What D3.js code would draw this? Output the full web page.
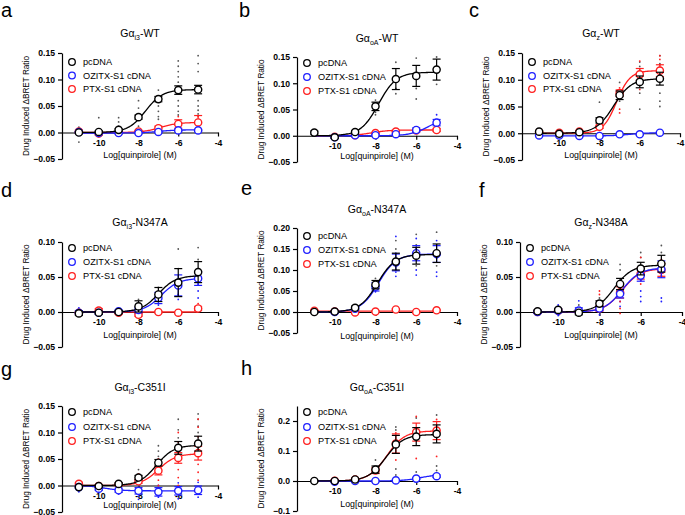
<!DOCTYPE html>
<html><head><meta charset="utf-8">
<script src="https://cdn.jsdelivr.net/npm/d3@7"></script>
<style>
html,body{margin:0;padding:0;background:#fff;}
svg{display:block;font-family:Arial,"Liberation Sans",sans-serif;}
</style></head>
<body><svg id="c" width="685" height="515"></svg>
<script>
// ---------- data ----------
const doses = [-11, -10, -9, -8, -7, -6, -5];
const seriesNames = ["pcDNA", "OZITX-S1 cDNA", "PTX-S1 cDNA"];
const panelLetters = ["a","b","c","d","e","f","g","h"];
const titleSubs = ["i3","oA","z","i3","oA","z","i3","oA"];
const titleSuffix = ["-WT","-WT","-WT","-N347A","-N347A","-N348A","-C351I","-C351I"];
const yDomains = [[-0.05,0.15],[-0.05,0.15],[-0.05,0.15],[-0.05,0.10],[-0.05,0.20],[-0.05,0.10],[-0.05,0.15],[-0.1,0.25]];
const yTicks = [[-0.05,0,0.05,0.1,0.15],[-0.05,0,0.05,0.1,0.15],[-0.05,0,0.05,0.1,0.15],[-0.05,0,0.05,0.1],[-0.05,0,0.05,0.1,0.15,0.2],[-0.05,0,0.05,0.1],[-0.05,0,0.05,0.1,0.15],[-0.1,0,0.1,0.2]];
const xTicks = [-10, -8, -6, -4];

// means [pcDNA, OZITX, PTX] at doses (null = not shown)
const meansA = [[0.000,0.001,0.005,0.029,0.063,0.080,0.081],[0.001,-0.001,-0.001,-0.001,0.001,0.004,0.004],[0.002,-0.002,0.000,0.002,0.008,0.016,0.019]];
const semA   = [[0.002,0.002,0.002,0.004,0.005,0.008,0.008],[0.001,0.001,0.001,0.001,0.001,0.001,0.001],[0.003,0.003,0.001,0.002,0.004,0.008,0.013]];
const fitA   = [[0,0.081,-7.65,1],[-0.001,0.005,-7,1],[0,0.019,-6.9,1]];
const meansB = [[0.006,-0.003,0.007,0.056,0.108,0.114,0.126],[null,-0.003,0.001,0.001,0.003,0.011,0.025],[null,-0.002,0.001,0.005,0.008,0.010,0.011]];
const semB   = [[0.003,0.002,0.003,0.008,0.020,0.020,0.020],[0,0.001,0.001,0.001,0.001,0.004,0.006],[0,0.001,0.001,0.001,0.001,0.002,0.003]];
const fitB   = [[0,0.121,-7.85,1],[0,0.035,-5.4,1],[0,0.011,-8.2,1]];
const meansC = [[0.003,-0.001,0.002,0.024,0.071,0.096,0.102],[-0.004,-0.004,-0.005,-0.005,-0.002,-0.002,0.001],[0.002,0.001,0.003,0.012,0.075,0.110,0.117]];
const semC   = [[0.002,0.001,0.002,0.005,0.008,0.011,0.012],[0.001,0.001,0.001,0.001,0.001,0.001,0.001],[0.001,0.001,0.001,0.003,0.006,0.011,0.011]];
const fitC   = [[0,0.102,-7.3,1],[-0.005,0.001,-6.5,1],[0,0.117,-7.15,1.3]];
const meansD = [[-0.002,-0.001,0.000,0.008,0.025,0.042,0.057],[-0.001,-0.001,0.001,0.003,0.020,0.038,0.048],[-0.001,0.002,-0.001,-0.004,0.000,-0.001,0.005]];
const semD   = [[0.003,0.002,0.002,0.008,0.010,0.020,0.015],[0.003,0.002,0.002,0.004,0.008,0.015,0.010],[0.002,0.003,0.002,0.002,0.001,0.001,0.003]];
const fitD   = [[0,0.052,-7.0,1],[0,0.048,-6.85,1],[0,0.0,-7,1]];
const meansE = [[0.000,0.001,0.010,0.065,0.120,0.134,0.140],[null,0.000,0.008,0.060,0.118,0.140,0.138],[0.003,0.001,-0.001,0.001,0.006,0.000,0.004]];
const semE   = [[0.002,0.002,0.004,0.010,0.020,0.020,0.022],[0,0.002,0.004,0.010,0.020,0.018,0.020],[0.001,0.001,0.001,0.001,0.002,0.001,0.001]];
const fitE   = [[0,0.137,-7.9,1],[0,0.138,-7.85,1],[0.002,0.002,-7,1]];
const meansF = [[0.001,0.003,-0.001,0.012,0.040,0.062,0.069],[0.000,0.002,0.002,0.005,0.026,0.052,0.061],[0.000,0.002,0.001,0.005,0.028,0.055,0.060]];
const semF   = [[0.002,0.002,0.003,0.004,0.008,0.009,0.012],[0.002,0.003,0.004,0.003,0.006,0.008,0.012],[0.002,0.002,0.002,0.004,0.008,0.008,0.009]];
const fitF   = [[0,0.067,-7.3,1],[0,0.063,-6.9,1],[0,0.062,-6.9,1]];
const meansG = [[-0.003,-0.001,0.003,0.015,0.043,0.071,0.079],[-0.003,-0.006,-0.009,-0.010,-0.012,-0.010,-0.009],[0.003,-0.001,0.002,0.008,0.028,0.052,0.061]];
const semG   = [[0.002,0.002,0.002,0.004,0.006,0.012,0.014],[0.002,0.003,0.004,0.006,0.008,0.008,0.008],[0.003,0.002,0.002,0.004,0.008,0.010,0.013]];
const fitG   = [[0,0.076,-7.1,1],[0,-0.010,-9.7,1],[0,0.060,-7.0,1]];
const meansH = [[0.000,0.000,0.005,0.038,0.122,0.148,0.157],[null,-0.002,0.000,0.000,0.002,0.008,0.016],[null,0.001,0.005,0.035,0.125,0.163,0.168]];
const semH   = [[0.002,0.002,0.004,0.012,0.030,0.030,0.030],[0,0.002,0.002,0.002,0.002,0.003,0.004],[0,0.002,0.004,0.010,0.032,0.030,0.030]];
const fitH   = [[0,0.155,-7.5,1],[0,0.022,-5.8,1],[0,0.167,-7.45,1]];

// individual replicates: [series, dose, value]
const repsA = [[0,-11,0.010],[0,-11,-0.018],[0,-10,0.028],[0,-10,0.006],[0,-9,0.028],[0,-9,0.020],[0,-9,0.012],[0,-8,0.060],[0,-8,0.046],[0,-8,0.033],[0,-8,0.012],[0,-7,0.080],[0,-7,0.050],[0,-7,0.040],[0,-7,0.030],[0,-7,0.025],[0,-6,0.135],[0,-6,0.125],[0,-6,0.115],[0,-6,0.105],[0,-6,0.095],[0,-6,0.060],[0,-6,0.050],[0,-6,0.040],[0,-6,0.033],[0,-5,0.145],[0,-5,0.130],[0,-5,0.115],[0,-5,0.060],[0,-5,0.050],[0,-5,0.042],[0,-5,0.035],[2,-11,0.006],[2,-10,-0.008],[2,-6,0.030],[2,-5,0.030]];
const repsB = [[0,-11,0.009],[0,-9,0.012],[0,-8,0.068],[0,-8,0.045],[0,-8,0.040],[0,-7,0.140],[0,-7,0.090],[0,-7,0.080],[0,-6,0.148],[0,-6,0.090],[0,-6,0.070],[0,-5,0.150],[0,-5,0.098],[1,-5,0.040],[1,-5,0.030],[1,-6,0.017],[2,-5,0.016]];
const repsC = [[0,-11,0.006],[0,-8,0.058],[0,-8,0.017],[0,-7,0.095],[0,-7,0.060],[0,-6,0.133],[0,-6,0.125],[0,-6,0.075],[0,-6,0.045],[0,-5,0.145],[0,-5,0.130],[0,-5,0.075],[0,-5,0.060],[0,-5,0.050],[2,-7,0.085],[2,-7,0.045],[2,-7,0.038],[2,-6,0.135],[2,-6,0.120],[2,-6,0.090],[2,-6,0.082],[2,-5,0.145],[2,-5,0.138],[2,-5,0.128],[1,-11,-0.006]];
const repsD = [[0,-11,0.004],[0,-8,0.018],[0,-8,0.012],[0,-7,0.035],[0,-7,0.030],[0,-6,0.090],[0,-6,0.062],[0,-5,0.092],[0,-5,0.075],[1,-11,0.006],[1,-11,-0.006],[1,-8,-0.004],[1,-7,0.018],[1,-7,0.010],[1,-6,0.040],[1,-6,0.025],[1,-6,0.018],[1,-5,0.040],[1,-5,0.030],[1,-5,0.020],[2,-10,0.005],[2,-10,-0.006],[2,-9,-0.005],[2,-8,-0.007],[2,-5,0.012]];
const repsE = [[0,-8,0.080],[0,-8,0.050],[0,-7,0.170],[0,-7,0.150],[0,-7,0.100],[0,-6,0.185],[0,-6,0.160],[0,-6,0.110],[0,-5,0.190],[0,-5,0.160],[0,-5,0.110],[1,-8,0.072],[1,-8,0.048],[1,-7,0.180],[1,-7,0.140],[1,-7,0.095],[1,-7,0.085],[1,-6,0.175],[1,-6,0.150],[1,-6,0.100],[1,-6,0.088],[1,-5,0.170],[1,-5,0.128],[1,-5,0.095],[1,-5,0.085],[2,-11,0.004]];
const repsF = [[0,-10,0.008],[0,-9,0.010],[0,-8,0.020],[0,-7,0.068],[0,-7,0.060],[0,-6,0.085],[0,-6,0.078],[0,-5,0.095],[0,-5,0.085],[1,-10,0.010],[1,-10,-0.005],[1,-9,0.016],[1,-9,-0.005],[1,-8,-0.004],[1,-7,0.015],[1,-7,0.008],[1,-6,0.045],[1,-6,0.030],[1,-6,0.022],[1,-6,0.015],[1,-5,0.020],[1,-5,0.015],[2,-10,0.006],[2,-8,0.030],[2,-8,0.025],[2,-7,0.035],[2,-7,0.015],[2,-7,0.005],[2,-7,-0.002],[2,-6,0.078],[2,-6,0.045],[2,-6,0.040],[2,-5,0.075],[2,-5,0.052]];
const repsG = [[0,-8,0.030],[0,-8,0.022],[0,-7,0.075],[0,-7,0.065],[0,-7,0.055],[0,-7,0.030],[0,-6,0.125],[0,-6,0.105],[0,-6,0.090],[0,-5,0.135],[0,-5,0.125],[0,-5,0.112],[0,-5,0.100],[1,-11,-0.012],[1,-10,-0.013],[1,-9,-0.016],[1,-8,-0.026],[1,-8,-0.020],[1,-7,-0.022],[1,-7,0.000],[1,-6,-0.025],[1,-6,0.005],[1,-5,-0.022],[1,-5,0.006],[2,-11,0.006],[2,-8,0.022],[2,-7,0.050],[2,-7,0.010],[2,-7,0.000],[2,-6,0.100],[2,-6,0.082],[2,-6,0.030],[2,-6,0.015],[2,-6,0.000],[2,-5,0.125],[2,-5,0.110],[2,-5,0.092],[2,-5,0.040],[2,-5,0.025],[2,-5,0.010]];
const repsH = [[0,-8,0.070],[0,-7,0.180],[0,-7,0.170],[0,-7,0.040],[0,-7,0.020],[0,-6,0.210],[0,-6,0.030],[0,-5,0.220],[0,-5,0.050],[0,-5,0.035],[1,-5,0.025],[2,-7,0.160],[2,-7,0.070],[2,-6,0.215],[2,-6,0.075],[2,-5,0.205],[2,-5,0.082]];

const allMeans = [meansA,meansB,meansC,meansD,meansE,meansF,meansG,meansH];
const allSem = [semA,semB,semC,semD,semE,semF,semG,semH];
const allFit = [fitA,fitB,fitC,fitD,fitE,fitF,fitG,fitH];
const allReps = [repsA,repsB,repsC,repsD,repsE,repsF,repsG,repsH];

// ---------- layout ----------
const layout = [
  {x0:62,  x1:218, yt:53,  yb:159, letter:[1,17],    title:37,  leg:[62,75.5,89],   xlab:158},
  {x0:297, x1:457, yt:57,  yb:162, letter:[239,17],  title:42,  leg:[63,77,91],     xlab:159},
  {x0:522, x1:680, yt:53,  yb:160, letter:[469,17],  title:37,  leg:[62,76,89],     xlab:158},
  {x0:62,  x1:218, yt:242, yb:347, letter:[1,197],   title:226, leg:[248,262,276],  xlab:338},
  {x0:297, x1:457, yt:228, yb:333, letter:[241,195], title:213, leg:[236,250,264],  xlab:339},
  {x0:520, x1:682, yt:242, yb:347, letter:[479,197], title:226, leg:[248,262,276],  xlab:338},
  {x0:62,  x1:218, yt:406, yb:512, letter:[1,376],   title:391, leg:[412,427,441],  xlab:508},
  {x0:297, x1:457, yt:406, yb:511, letter:[241,375], title:391, leg:[412,427,441],  xlab:507}
];
const colors = ["#000000", "#1f1fff", "#ff2020"];
const xMin = -11.85, xMax = -4;

const svg = d3.select("#c");
const fmt = d3.format(".2f");

function logistic(p, x){ return p[0] + (p[1]-p[0])/(1+Math.pow(10,(p[2]-x)*p[3])); }

layout.forEach((L, i) => {
  const g = svg.append("g");
  const x = d3.scaleLinear().domain([xMin, xMax]).range([L.x0, L.x1]);
  const y = d3.scaleLinear().domain(yDomains[i]).range([L.yb, L.yt]);
  const decimals = i === 7 ? d3.format(".1f") : fmt;

  // panel letter
  g.append("text").attr("x", L.letter[0]).attr("y", L.letter[1])
    .attr("font-size", 20).text(panelLetters[i]);
  // title
  const cx = (L.x0 + L.x1)/2;
  const t = g.append("text").attr("x", cx).attr("y", L.title).attr("text-anchor","middle").attr("font-size",10.5);
  t.append("tspan").text("G\u03b1");
  t.append("tspan").attr("font-size",7).attr("dy",2.5).text(titleSubs[i]);
  t.append("tspan").attr("dy",-2.5).text(titleSuffix[i]);

  // y axis
  const yAxis = d3.axisLeft(y).tickValues(yTicks[i]).tickSize(4).tickSizeOuter(0).tickFormat(decimals).tickPadding(3);
  const ya = g.append("g").attr("transform", `translate(${L.x0},0)`).call(yAxis);
  ya.select(".domain").attr("stroke","#000").attr("stroke-width",1.2);
  ya.selectAll(".tick line").attr("stroke-width",1.2);
  ya.selectAll("text").attr("font-size",8.6).attr("font-weight","bold").attr("font-family","Arial,'Liberation Sans',sans-serif");

  // x axis at zero
  const xAxis = d3.axisBottom(x).tickValues(xTicks).tickSize(4).tickSizeOuter(0).tickFormat(d3.format("d")).tickPadding(3);
  const xa = g.append("g").attr("transform", `translate(0,${y(0)})`).call(xAxis);
  xa.select(".domain").attr("stroke","#000").attr("stroke-width",1.2);
  xa.selectAll(".tick line").attr("stroke-width",1.2);
  xa.selectAll("text").attr("font-size",8.6).attr("font-weight","bold").attr("font-family","Arial,'Liberation Sans',sans-serif")
    .text(d => d < 0 ? "-" + Math.abs(d) : d);

  // axis labels
  g.append("text").attr("x", cx).attr("y", L.xlab).attr("text-anchor","middle").attr("font-size",8.8)
    .text("Log[quinpirole] (M)");
  g.append("text").attr("transform", `translate(${L.x0-33},${(L.yt+L.yb)/2}) rotate(-90)`)
    .attr("text-anchor","middle").attr("font-size",8.2).text("Drug Induced \u0394BRET Ratio");

  // replicate dots
  g.append("g").selectAll("circle").data(allReps[i]).join("circle")
    .attr("cx", d => x(d[1])).attr("cy", d => y(d[2])).attr("r", 0.9)
    .attr("fill", d => d[0]===0 ? "#555" : colors[d[0]]);

  // series: draw PTX, OZITX, pcDNA (pcDNA on top)
  [2,1,0].forEach(s => {
    const sg = g.append("g");
    const fp = allFit[i][s];
    const xs = d3.range(-11, -4.99, 0.05);
    const line = d3.line().x(d => x(d)).y(d => y(logistic(fp, d))).curve(d3.curveLinear);
    sg.append("path").datum(xs).attr("d", line).attr("fill","none").attr("stroke",colors[s]).attr("stroke-width",1.3);
    const pts = doses.map((d, k) => ({d, m: allMeans[i][s][k], e: allSem[i][s][k]})).filter(p => p.m !== null);
    // error bars
    pts.forEach(p => {
      const top = y(p.m + p.e), bot = y(p.m - p.e), px = x(p.d);
      sg.append("line").attr("x1",px).attr("x2",px).attr("y1",top).attr("y2",bot).attr("stroke",colors[s]).attr("stroke-width",1.2);
      [top, bot].forEach(yy => sg.append("line").attr("x1",px-4).attr("x2",px+4).attr("y1",yy).attr("y2",yy).attr("stroke",colors[s]).attr("stroke-width",1.2));
    });
    sg.selectAll("circle").data(pts).join("circle")
      .attr("cx", p => x(p.d)).attr("cy", p => y(p.m)).attr("r", 3.6)
      .attr("fill","#fff").attr("stroke",colors[s]).attr("stroke-width",1.4);
  });

  // legend
  seriesNames.forEach((name, s) => {
    g.append("circle").attr("cx", L.x0+10).attr("cy", L.leg[s]).attr("r",3.3)
      .attr("fill","#fff").attr("stroke",colors[s]).attr("stroke-width",1.3);
    g.append("text").attr("x", L.x0+21).attr("y", L.leg[s]+3.2).attr("font-size",9.2).text(name);
  });
});
</script></body></html>
